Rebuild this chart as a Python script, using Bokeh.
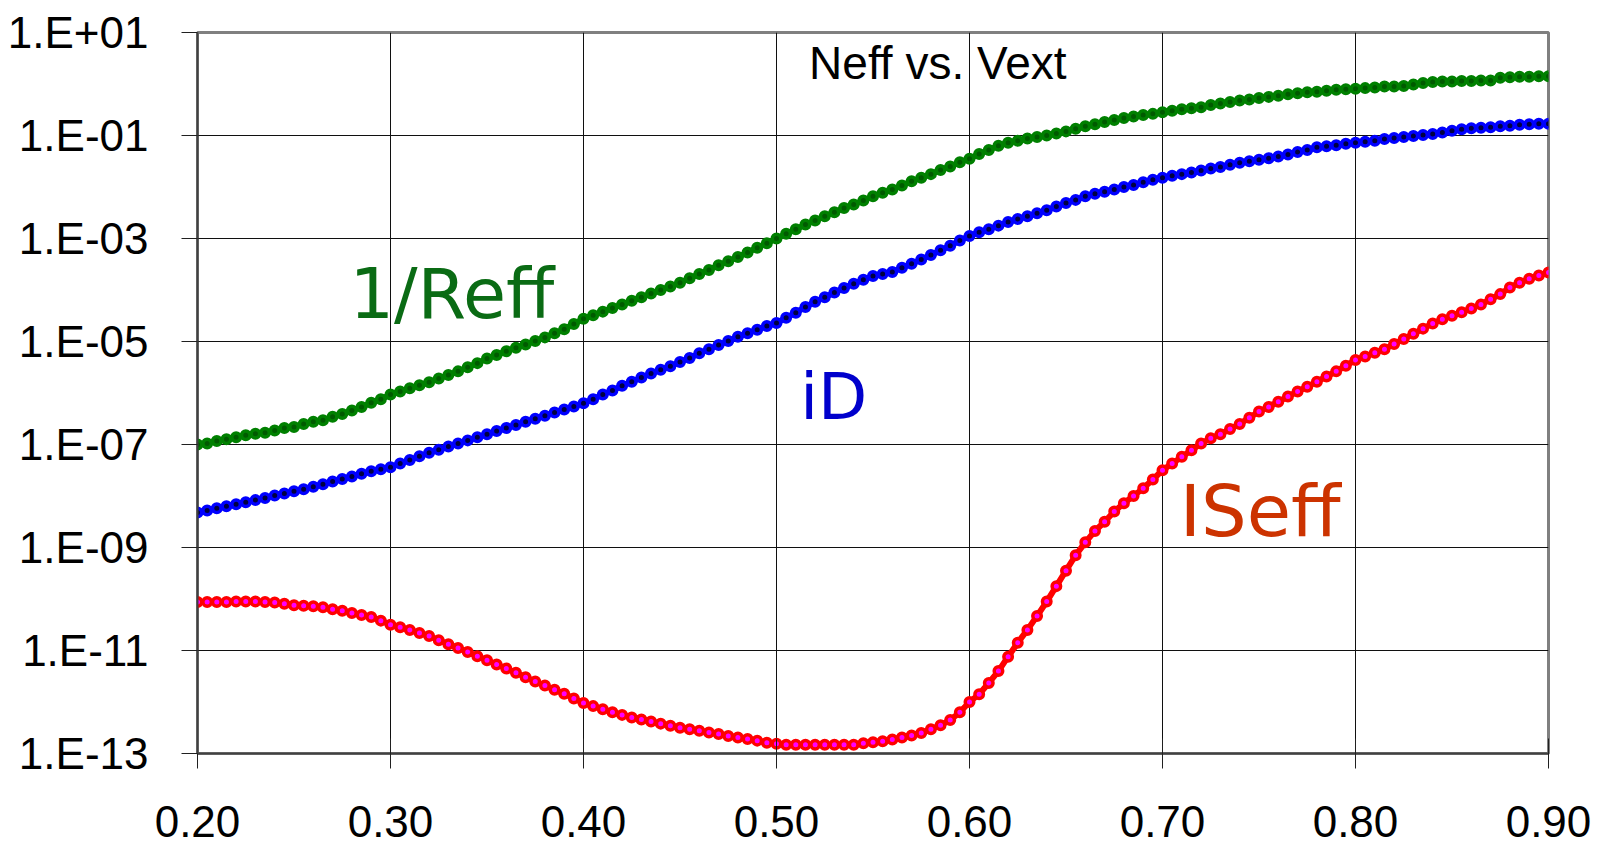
from bokeh.plotting import figure
from bokeh.models import ColumnDataSource, Range1d, FixedTicker, CustomJSTickFormatter, Label
from bokeh.embed import file_html
from bokeh.resources import INLINE

# Vext grid (0.20 .. 0.90, step 0.005)
vext = [round(0.20 + 0.005 * i, 3) for i in range(141)]

# log10 of each series
inv_reff_log10 = [
    -7.00, -6.98, -6.93, -6.90, -6.86, -6.82, -6.79, -6.77, -6.73, -6.68,
    -6.66, -6.60, -6.56, -6.53, -6.46, -6.41, -6.34, -6.27, -6.19, -6.12,
    -6.03, -5.97, -5.91, -5.85, -5.79, -5.72, -5.65, -5.58, -5.50, -5.42,
    -5.33, -5.26, -5.19, -5.12, -5.06, -4.99, -4.92, -4.84, -4.76, -4.66,
    -4.56, -4.49, -4.42, -4.35, -4.28, -4.21, -4.14, -4.07, -4.00, -3.93,
    -3.86, -3.77, -3.69, -3.61, -3.52, -3.44, -3.36, -3.27, -3.18, -3.09,
    -3.00, -2.91, -2.82, -2.73, -2.65, -2.57, -2.49, -2.41, -2.34, -2.26,
    -2.18, -2.11, -2.05, -1.97, -1.89, -1.82, -1.75, -1.67, -1.60, -1.52,
    -1.45, -1.36, -1.28, -1.20, -1.14, -1.10, -1.06, -1.03, -1.00, -0.96,
    -0.92, -0.87, -0.82, -0.78, -0.74, -0.70, -0.66, -0.63, -0.60, -0.58,
    -0.55, -0.52, -0.49, -0.47, -0.45, -0.41, -0.38, -0.35, -0.32, -0.30,
    -0.27, -0.25, -0.23, -0.20, -0.18, -0.16, -0.15, -0.13, -0.11, -0.10,
    -0.09, -0.08, -0.07, -0.05, -0.05, -0.04, -0.01, 0.02, 0.04, 0.05,
    0.05, 0.06, 0.06, 0.07, 0.07, 0.12, 0.13, 0.14, 0.14, 0.15,
    0.15,
]

id_log10 = [
    -8.32, -8.28, -8.24, -8.20, -8.16, -8.12, -8.08, -8.04, -7.99, -7.95,
    -7.91, -7.87, -7.82, -7.77, -7.72, -7.67, -7.62, -7.57, -7.52, -7.48,
    -7.44, -7.37, -7.30, -7.23, -7.16, -7.10, -7.04, -6.98, -6.92, -6.86,
    -6.80, -6.74, -6.68, -6.62, -6.56, -6.50, -6.44, -6.38, -6.32, -6.26,
    -6.20, -6.12, -6.03, -5.95, -5.86, -5.78, -5.70, -5.62, -5.55, -5.48,
    -5.40, -5.32, -5.23, -5.15, -5.07, -4.99, -4.91, -4.84, -4.77, -4.70,
    -4.64, -4.54, -4.44, -4.33, -4.23, -4.14, -4.05, -3.96, -3.88, -3.80,
    -3.73, -3.69, -3.65, -3.57, -3.49, -3.41, -3.32, -3.23, -3.14, -3.04,
    -2.95, -2.88, -2.82, -2.75, -2.68, -2.62, -2.57, -2.51, -2.45, -2.38,
    -2.31, -2.25, -2.18, -2.13, -2.09, -2.05, -2.00, -1.96, -1.91, -1.86,
    -1.82, -1.78, -1.75, -1.72, -1.68, -1.64, -1.61, -1.57, -1.53, -1.50,
    -1.47, -1.44, -1.41, -1.37, -1.32, -1.28, -1.23, -1.21, -1.19, -1.16,
    -1.14, -1.12, -1.10, -1.07, -1.05, -1.03, -1.01, -0.99, -0.97, -0.94,
    -0.91, -0.88, -0.86, -0.85, -0.84, -0.82, -0.81, -0.79, -0.78, -0.77,
    -0.77,
]

iseff_log10 = [
    -10.06, -10.06, -10.06, -10.06, -10.05, -10.05, -10.05, -10.06, -10.07, -10.09,
    -10.12, -10.13, -10.14, -10.16, -10.20, -10.23, -10.27, -10.31, -10.35, -10.42,
    -10.50, -10.55, -10.60, -10.66, -10.72, -10.80, -10.88, -10.95, -11.03, -11.11,
    -11.19, -11.27, -11.35, -11.43, -11.52, -11.60, -11.68, -11.76, -11.84, -11.93,
    -12.02, -12.08, -12.14, -12.20, -12.25, -12.30, -12.34, -12.38, -12.42, -12.46,
    -12.50, -12.53, -12.56, -12.59, -12.62, -12.66, -12.69, -12.72, -12.75, -12.79,
    -12.81, -12.83, -12.83, -12.83, -12.83, -12.83, -12.83, -12.83, -12.83, -12.80,
    -12.78, -12.76, -12.73, -12.69, -12.65, -12.60, -12.53, -12.45, -12.35, -12.20,
    -12.00, -11.85, -11.63, -11.40, -11.12, -10.85, -10.60, -10.33, -10.05, -9.75,
    -9.45, -9.15, -8.90, -8.68, -8.50, -8.30, -8.14, -8.00, -7.85, -7.68,
    -7.50, -7.37, -7.24, -7.11, -6.98, -6.88, -6.80, -6.70, -6.60, -6.48,
    -6.36, -6.27, -6.17, -6.07, -5.97, -5.88, -5.78, -5.68, -5.58, -5.47,
    -5.36, -5.29, -5.22, -5.15, -5.05, -4.95, -4.85, -4.75, -4.65, -4.57,
    -4.50, -4.43, -4.36, -4.28, -4.18, -4.08, -3.95, -3.86, -3.78, -3.72,
    -3.66,
]

x_ticks = [0.2, 0.3, 0.4, 0.5, 0.6, 0.7, 0.8, 0.9]
y_ticks = [1e-13, 1e-11, 1e-9, 1e-7, 1e-5, 1e-3, 1e-1, 1e1]

src = ColumnDataSource(dict(
    x=vext,
    g=[10 ** v for v in inv_reff_log10],
    b=[10 ** v for v in id_log10],
    r=[10 ** v for v in iseff_log10],
))

p = figure(width=1602, height=844, output_backend="svg", toolbar_location=None,
           y_axis_type="log", x_range=Range1d(0.2, 0.9), y_range=Range1d(1e-13, 1e1),
           min_border_left=197, min_border_right=54, min_border_top=32, min_border_bottom=91)
p.background_fill_color = "white"
p.border_fill_color = "white"
p.outline_line_color = "#808080"
p.outline_line_width = 3

p.xaxis.ticker = FixedTicker(ticks=x_ticks)
p.yaxis.ticker = FixedTicker(ticks=y_ticks)
p.xaxis.formatter = CustomJSTickFormatter(code="return tick.toFixed(2);")
p.yaxis.formatter = CustomJSTickFormatter(code="""
const e = Math.round(Math.log10(tick));
const s = e < 0 ? "-" : "+";
return "1.E" + s + String(Math.abs(e)).padStart(2, "0");
""")

for ax in (p.xaxis[0], p.yaxis[0]):
    ax.major_label_text_font = "Liberation Sans"
    ax.major_label_text_font_size = "44px"
    ax.major_label_text_color = "black"
    ax.minor_tick_line_color = None
    ax.major_tick_line_color = "#202020"
    ax.major_tick_line_width = 1
    ax.axis_line_color = "#404040"
    ax.axis_line_width = 2

p.xaxis.major_tick_in = 15
p.xaxis.major_tick_out = 15
p.xaxis.major_label_standoff = 37
p.xaxis.major_label_text_line_height = 0.8
p.yaxis.major_tick_in = 0
p.yaxis.major_tick_out = 16
p.yaxis.major_label_standoff = 33

p.xgrid.grid_line_color = "#101010"
p.ygrid.grid_line_color = "#101010"
p.xgrid.grid_line_width = 1
p.ygrid.grid_line_width = 1

series = [
    ("g", "#008000", "#005a00"),
    ("b", "#0000FF", "#000040"),
    ("r", "#FF0000", "#FF00FF"),
]
for col, lc, fc in series:
    p.line("x", col, source=src, line_color=lc, line_width=6)
    p.scatter("x", col, source=src, marker="circle", size=8.5,
              line_color=lc, line_width=3.5, fill_color=fc)

p.add_layout(Label(x=0.5169, y=10 ** 0.417, text="Neff vs. Vext",
                   text_font="Liberation Sans", text_font_size="46px",
                   text_color="black", text_baseline="middle", text_align="left"))
p.add_layout(Label(x=0.2787, y=10 ** -4.07, text="1/Reff",
                   text_font="DejaVu Sans", text_font_size="70px",
                   text_color="#0A6B14", text_baseline="middle", text_align="left"))
p.add_layout(Label(x=0.5123, y=10 ** -6.07, text="iD",
                   text_font="DejaVu Sans", text_font_size="64px",
                   text_color="#0000CC", text_baseline="middle", text_align="left"))
p.add_layout(Label(x=0.709, y=10 ** -8.30, text="ISeff",
                   text_font="DejaVu Sans", text_font_size="72px",
                   text_color="#CC3300", text_baseline="middle", text_align="left"))

open("out.html", "w").write(file_html(p, INLINE))
